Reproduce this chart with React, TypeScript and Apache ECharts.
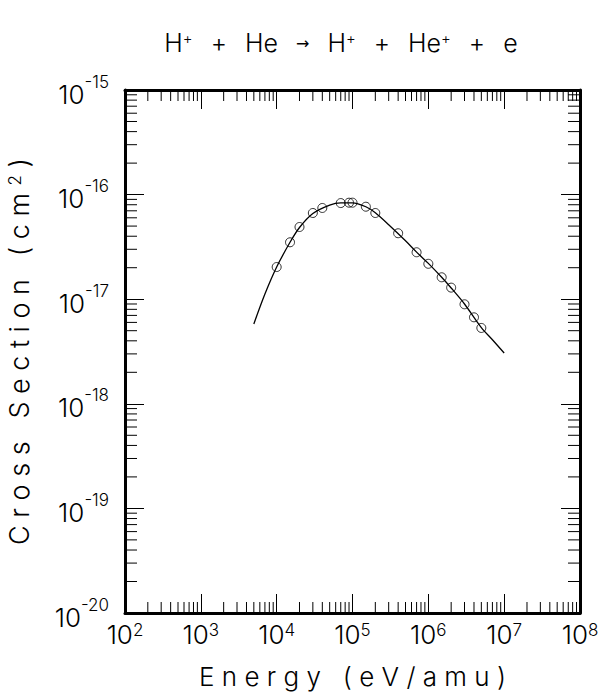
import React, { useEffect, useRef } from "react";
import * as echarts from "echarts";

// Measured points (circles)
const pointEnergy = [1e4, 1.5e4, 2e4, 3e4, 4e4, 7e4, 9e4, 1e5, 1.5e5, 2e5, 4e5, 7e5, 1e6, 1.5e6, 2e6, 3e6, 4e6, 5e6];
const pointSigma = [2.03e-17, 3.5e-17, 4.9e-17, 6.67e-17, 7.45e-17, 8.3e-17, 8.37e-17, 8.37e-17, 7.66e-17, 6.67e-17, 4.27e-17, 2.81e-17, 2.18e-17, 1.62e-17, 1.29e-17, 8.94e-18, 6.71e-18, 5.31e-18];

// Fitted curve (solid line)
const fitEnergy = [5e3, 7e3, 1e4, 1.5e4, 2e4, 3e4, 5e4, 7e4, 1e5, 1.5e5, 2e5, 3e5, 5e5, 7e5, 1e6, 1.5e6, 2e6, 3e6, 5e6, 7e6, 1e7];
const fitSigma = [5.8e-18, 1.12e-17, 2.03e-17, 3.5e-17, 4.85e-17, 6.6e-17, 7.95e-17, 8.35e-17, 8.35e-17, 7.65e-17, 6.7e-17, 5.15e-17, 3.62e-17, 2.82e-17, 2.2e-17, 1.62e-17, 1.28e-17, 9.0e-18, 5.35e-18, 4.1e-18, 3.06e-18];

// Axis ranges
const xMin = 1e2;
const xMax = 1e8;
const yMin = 1e-20;
const yMax = 1e-15;

const titleText = "H{s|+}{g| }+{g| }He{g| }{a|→}{g| }H{s|+}{g| }+{g| }He{s|+}{g| }+{g| }e";
const xName = "E n e r g y   ( e V / a m u )";
const yName = "C r o s s   S e c t i o n   ( c m {s|2} )";

function minorTicks(lo: number, hi: number): number[] {
  const out: number[] = [];
  for (let e = lo; e < hi; e++) {
    for (let k = 2; k <= 9; k++) out.push(k * Math.pow(10, e));
  }
  return out;
}

const FONT = "Inter, 'Liberation Sans', Arial, sans-serif";
const FW = 300;

export default function App() {
  const ref = useRef<HTMLDivElement>(null);
  useEffect(() => {
    if (!ref.current) return;
    const chart = echarts.init(ref.current, null, { renderer: "svg" });
    const minorX = minorTicks(2, 8);
    const minorY = minorTicks(-20, -15);
    const tickStyle = { color: "#000", width: 1 };
    const axisLineStyle = { color: "#000", width: 3 };
    const expLabel = (v: number) => `{b|10}{s|${Math.round(Math.log10(v))}}`;

    const option: any = {
      animation: false,
      backgroundColor: "#fff",
      grid: { left: 125, top: 90, right: 18, bottom: 83, containLabel: false, outerBoundsMode: "none" },
      graphic: [
        {
          type: "text",
          x: 341,
          y: 43,
          style: {
            text: titleText,
            fontFamily: FONT,
            fontWeight: FW,
            fontSize: 25,
            fill: "#000",
            align: "center",
            verticalAlign: "middle",
            rich: {
              s: { fontSize: 15, verticalAlign: "top", fontFamily: FONT, fontWeight: FW },
              a: { fontSize: 16, fontFamily: "'DejaVu Sans', sans-serif" },
              g: { width: 18, fontSize: 25 },
            },
          },
        },
      ],
      xAxis: [
        {
          type: "log",
          logBase: 10,
          min: xMin,
          max: xMax,
          position: "bottom",
          axisLine: { show: true, onZero: false, lineStyle: axisLineStyle },
          axisTick: { show: true, inside: true, length: 19, lineStyle: tickStyle },
          minorTick: { show: false },
          splitLine: { show: false },
          axisLabel: {
            margin: 8,
            formatter: expLabel,
            color: "#000",
            rich: {
              b: { fontSize: 26, fontFamily: FONT, fontWeight: FW, color: "#000" },
              s: { fontSize: 17, fontFamily: FONT, fontWeight: FW, color: "#000", verticalAlign: "top" },
            },
          },
          name: xName,
          nameLocation: "middle",
          nameGap: 50,
          nameMoveOverlap: false,
          nameTextStyle: { fontSize: 26, fontFamily: FONT, fontWeight: FW, color: "#000" },
        },
        {
          type: "log",
          logBase: 10,
          min: xMin,
          max: xMax,
          position: "top",
          axisLine: { show: true, onZero: false, lineStyle: axisLineStyle },
          axisTick: { show: true, inside: true, length: 19, lineStyle: tickStyle },
          axisLabel: { show: false },
          splitLine: { show: false },
        },
      ],
      yAxis: [
        {
          type: "log",
          logBase: 10,
          min: yMin,
          max: yMax,
          position: "left",
          axisLine: { show: true, onZero: false, lineStyle: axisLineStyle },
          axisTick: { show: true, inside: true, length: 19, lineStyle: tickStyle },
          splitLine: { show: false },
          axisLabel: {
            margin: 16,
            formatter: expLabel,
            color: "#000",
            rich: {
              b: { fontSize: 26, fontFamily: FONT, fontWeight: FW, color: "#000", padding: [8, 0, 0, 0] },
              s: { fontSize: 17, fontFamily: FONT, fontWeight: FW, color: "#000", verticalAlign: "top" },
            },
          },
          name: yName,
          nameLocation: "middle",
          nameGap: 92,
          nameMoveOverlap: false,
          nameTextStyle: {
            fontSize: 27,
            fontFamily: FONT,
            fontWeight: FW,
            color: "#000",
            rich: { s: { fontSize: 17, fontFamily: FONT, fontWeight: FW, verticalAlign: "top" } },
          },
        },
        {
          type: "log",
          logBase: 10,
          min: yMin,
          max: yMax,
          position: "right",
          axisLine: { show: true, onZero: false, lineStyle: axisLineStyle },
          axisTick: { show: true, inside: true, length: 19, lineStyle: tickStyle },
          axisLabel: { show: false },
          splitLine: { show: false },
        },
      ],
      series: [
        {
          type: "custom",
          xAxisIndex: 0,
          yAxisIndex: 0,
          silent: true,
          data: minorX.map((v) => [v, 1e-18]),
          renderItem: (params: any, api: any) => {
            const cs = params.coordSys;
            const x = api.coord([api.value(0), 1e-18])[0];
            const yb = cs.y + cs.height;
            return {
              type: "group",
              children: [
                { type: "line", shape: { x1: x, y1: yb, x2: x, y2: yb - 11 }, style: { stroke: "#000", lineWidth: 1 } },
                { type: "line", shape: { x1: x, y1: cs.y, x2: x, y2: cs.y + 11 }, style: { stroke: "#000", lineWidth: 1 } },
              ],
            };
          },
        },
        {
          type: "custom",
          xAxisIndex: 0,
          yAxisIndex: 0,
          silent: true,
          data: minorY.map((v) => [1e3, v]),
          renderItem: (params: any, api: any) => {
            const cs = params.coordSys;
            const y = api.coord([1e3, api.value(1)])[1];
            const xr = cs.x + cs.width;
            return {
              type: "group",
              children: [
                { type: "line", shape: { x1: cs.x, y1: y, x2: cs.x + 12, y2: y }, style: { stroke: "#000", lineWidth: 1 } },
                { type: "line", shape: { x1: xr, y1: y, x2: xr - 12, y2: y }, style: { stroke: "#000", lineWidth: 1 } },
              ],
            };
          },
        },
        {
          type: "line",
          data: fitEnergy.map((e, i) => [e, fitSigma[i]]),
          smooth: 0.3,
          symbol: "none",
          lineStyle: { color: "#000", width: 1.3 },
        },
        {
          type: "scatter",
          data: pointEnergy.map((e, i) => [e, pointSigma[i]]),
          symbol: "circle",
          symbolSize: 9,
          itemStyle: { color: "none", borderColor: "#000", borderWidth: 1 },
        },
      ],
    };
    chart.setOption(option);
    return () => chart.dispose();
  }, []);
  return <div ref={ref} style={{ position: "fixed", left: 0, top: 0, width: 598, height: 696 }} />;
}
